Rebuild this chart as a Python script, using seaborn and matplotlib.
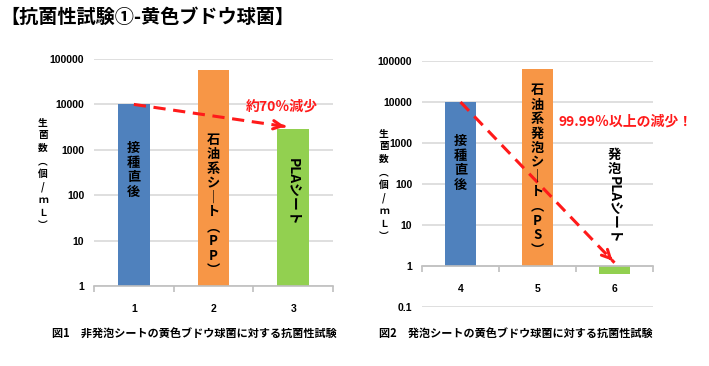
import matplotlib

matplotlib.use("Agg")
import matplotlib.pyplot as plt
import numpy as np
import pandas as pd
import seaborn as sns

# 図1: 非発泡シート
left_samples = ["1", "2", "3"]
left_counts = [10000, 56000, 2800]
left_names = ["接種直後", "石油系シート（PP）", "PLAシート"]

# 図2: 発泡シート
right_samples = ["4", "5", "6"]
right_counts = [10000, 63000, 0.64]
right_names = ["接種直後", "石油系発泡シート（PS）", "発泡PLAシート"]

left_ticks = [1, 10, 100, 1000, 10000, 100000]
left_tick_labels = ["1", "10", "100", "1000", "10000", "100000"]
right_ticks = [0.1, 1, 10, 100, 1000, 10000, 100000]
right_tick_labels = ["0.1", "1", "10", "100", "1000", "10000", "100000"]

bar_colors = ["#4F81BD", "#F79646", "#92D050"]
RED = "#FF1A1A"
GRID = "#D9D9D9"
AXIS = "#BFBFBF"

title = "【抗菌性試験①-黄色ブドウ球菌】"
caption_left = "図1　非発泡シートの黄色ブドウ球菌に対する抗菌性試験"
caption_right = "図2　発泡シートの黄色ブドウ球菌に対する抗菌性試験"
ylabel = "生菌数（個/ｍＬ）"

plt.rcParams["font.family"] = ["Noto Sans CJK JP", "DejaVu Sans"]
NARROW = ["Liberation Sans", "DejaVu Sans"]

W, H = 709, 366


def fx(px):
    return px / W


def fy(py):
    return 1 - py / H


def tate(s):
    # stack characters for vertical writing
    repl = {"ー": "｜", "（": "︵", "）": "︶", "(": "︵", ")": "︶"}
    return "\n".join(repl.get(c, c) for c in s)


def draw_panel(ax, samples, counts, ticks, tick_labels, ymin):
    df = pd.DataFrame({"sample": samples, "count": counts})
    # Excel style: bars start from the horizontal axis at 1
    df["height"] = df["count"] - 1
    sns.barplot(
        data=df, x="sample", y="height", hue="sample", order=samples,
        palette=bar_colors, saturation=1, width=0.4, bottom=1, errorbar=None,
        legend=False, ax=ax, linewidth=0,
    )
    ax.set_yscale("log")
    ax.set_ylim(ymin, 100000)
    ax.set_xlim(-0.5, len(samples) - 0.5)
    ax.yaxis.set_major_locator(matplotlib.ticker.FixedLocator(ticks))
    ax.yaxis.set_minor_locator(matplotlib.ticker.NullLocator())
    ax.set_yticklabels(tick_labels)
    ax.grid(axis="y", color=GRID, linewidth=1.2)
    ax.set_axisbelow(True)
    for side in ["left", "right", "top"]:
        ax.spines[side].set_visible(False)
    ax.spines["bottom"].set_color(AXIS)
    ax.spines["bottom"].set_linewidth(1.2)
    ax.spines["bottom"].set_position(("data", 1))
    ax.set_xticks(np.arange(len(samples) + 1) - 0.5, minor=True)
    ax.tick_params(axis="x", which="minor", length=4, color=AXIS, width=1.2)
    ax.tick_params(axis="x", which="major", length=0, pad=13)
    ax.tick_params(axis="y", length=0, pad=7)
    ax.set_xlabel("")
    ax.set_ylabel("")
    for lbl in ax.get_xticklabels() + ax.get_yticklabels():
        lbl.set_fontfamily(NARROW)
        lbl.set_fontsize(7.5)
        lbl.set_fontweight("bold")


def dashed_arrow(ax, start, end):
    ax.plot([start[0], end[0]], [start[1], end[1]], color=RED, lw=2.2,
            dashes=(4, 2.5), solid_capstyle="butt", zorder=5)
    # arrow head
    back = (end[0] - 0.04 * (end[0] - start[0]),
            10 ** (np.log10(end[1]) - 0.04 * (np.log10(end[1]) - np.log10(start[1]))))
    ax.annotate("", xy=end, xytext=back,
                arrowprops=dict(arrowstyle="->", color=RED, lw=2.2,
                                mutation_scale=15), zorder=6)


fig = plt.figure(figsize=(W / 100, H / 100), dpi=100)

ax1 = fig.add_axes([fx(94), fy(286), fx(333 - 94), (286 - 59) / H])
ax2 = fig.add_axes([fx(422), fy(307), fx(653 - 422), (307 - 61) / H])

draw_panel(ax1, left_samples, left_counts, left_ticks, left_tick_labels, 1)
draw_panel(ax2, right_samples, right_counts, right_ticks, right_tick_labels, 0.1)

lab_kw = dict(ha="center", va="center", fontsize=9.5, fontweight="bold",
              linespacing=1.05, color="black", zorder=7)

# left panel bar labels
xt1 = ax1.get_xaxis_transform()
ax1.text(0, (286 - 170) / 227, tate(left_names[0]), transform=xt1, **lab_kw)
ax1.text(1, (286 - 205) / 227, tate(left_names[1]), transform=xt1, **lab_kw)
ax1.text(2, (286 - 192) / 227, left_names[2], transform=xt1, rotation=-90,
         ha="center", va="center", fontsize=10, fontweight="bold", zorder=7)
dashed_arrow(ax1, (0, 10000), (1.93, 3200))
ax1.text(1.86, (286 - 107) / 227, "約70％減少", transform=xt1, color=RED,
         ha="center", va="center", fontsize=10, fontweight="bold", zorder=7)

# right panel bar labels
xt2 = ax2.get_xaxis_transform()
ax2.text(0, (307 - 163) / 246, tate(right_names[0]), transform=xt2, **lab_kw)
ax2.text(1, (307 - 170) / 246, tate(right_names[1]), transform=xt2, **lab_kw)
ax2.text(2, (307 - 162) / 246, tate(right_names[2][:2]), transform=xt2, **lab_kw)
ax2.text(2, (307 - 210) / 246, right_names[2][2:], transform=xt2, rotation=-90,
         ha="center", va="center", fontsize=10, fontweight="bold", zorder=7)
dashed_arrow(ax2, (0, 10000), (2.0, 1.2))
ax2.text(2.14, (307 - 122) / 246, "99.99％以上の減少！", transform=xt2, color=RED,
         ha="center", va="center", fontsize=10, fontweight="bold", zorder=7,
         clip_on=False)

# y labels (vertical writing)
ylab_kw = dict(ha="center", va="center", fontsize=7, fontweight="bold",
               linespacing=1.35)
fig.text(fx(43), fy(174), tate(ylabel), **ylab_kw)
fig.text(fx(384), fy(185), tate(ylabel), **ylab_kw)

fig.text(fx(0), fy(17), title, ha="left", va="center", fontsize=13.8,
         fontweight="bold")
fig.text(fx(52), fy(333), caption_left, ha="left", va="center", fontsize=8,
         fontweight="bold")
fig.text(fx(379), fy(333), caption_right, ha="left", va="center", fontsize=8,
         fontweight="bold")

fig.savefig("out.png", dpi=100)
plt.close(fig)
